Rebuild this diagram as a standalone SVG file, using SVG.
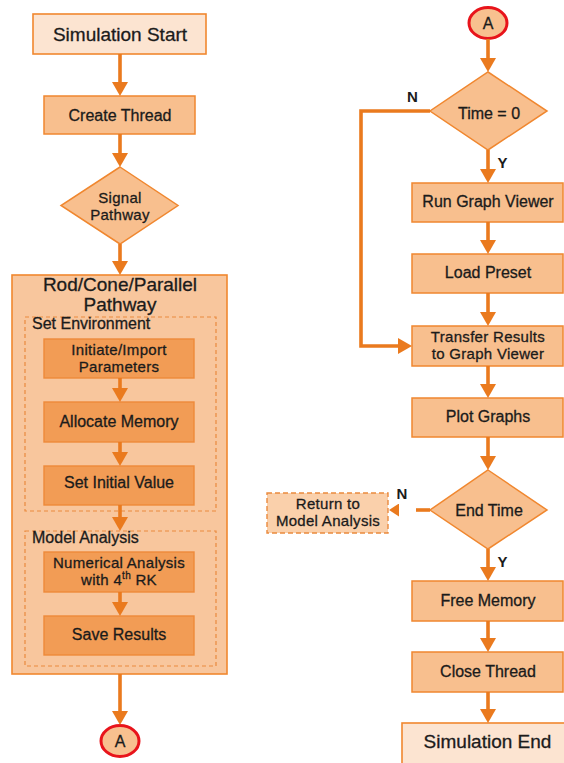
<svg xmlns="http://www.w3.org/2000/svg" width="564" height="763" viewBox="0 0 564 763">
  <style>
    text { font-family: "Liberation Sans", Arial, sans-serif; fill: #1b1b1b; stroke: #1b1b1b; stroke-width: 0.3; text-anchor: middle; }
    .t16 { font-size: 16px; }
    .t15 { font-size: 15px; letter-spacing: 0.3px; }
    .t19 { font-size: 19px; }
    .lbl { font-size: 15px; font-weight: bold; stroke: none; }
    .left { text-anchor: start; }
    .terminal { fill: #FCE4D1; stroke: #F0872F; stroke-width: 1.6; }
    .step { fill: #F8BF8E; stroke: #F0872F; stroke-width: 1.5; }
    .inner { fill: #F29C55; stroke: #EE8A3A; stroke-width: 1.4; }
    .container { fill: #F8C69D; stroke: #F0872F; stroke-width: 1.6; }
    .stage { fill: none; stroke: #EA8A3E; stroke-width: 1.2; stroke-dasharray: 4 3; }
    .ret { fill: #FAD0AB; stroke: #EA8A3E; stroke-width: 1.4; stroke-dasharray: 5 3; }
    .conn { fill: none; stroke: #EA7A1E; stroke-width: 3.6; marker-end: url(#arrow); }
    .dash { fill: none; stroke: #EA7A1E; stroke-width: 3.6; stroke-dasharray: 14 22; marker-end: url(#arrowSm); }
    .connector-A { fill: #F8C08F; stroke: #E8141B; stroke-width: 3; }
  </style>
  <defs>
    <marker id="arrow" markerUnits="userSpaceOnUse" markerWidth="14" markerHeight="16" refX="4" refY="8" orient="auto">
      <path d="M0,0 L14,8 L0,16 z" fill="#EA7A1E"/>
    </marker>
    <marker id="arrowSm" markerUnits="userSpaceOnUse" markerWidth="10" markerHeight="13" refX="3" refY="6.5" orient="auto">
      <path d="M0,0 L10,6.5 L0,13 z" fill="#EA7A1E"/>
    </marker>
  </defs>

  <rect width="564" height="763" fill="#ffffff"/>

  <!-- left column -->
  <g id="sim-start">
    <rect class="terminal" x="33" y="14" width="173" height="40"/>
    <text class="t19" x="120" y="40.5">Simulation Start</text>
  </g>
  <g id="create-thread">
    <rect class="step" x="44" y="96" width="151" height="38"/>
    <text class="t16" x="120" y="120.5">Create Thread</text>
  </g>
  <g id="signal-pathway">
    <polygon class="step" points="120,167 178,205.5 120,244 61,205.5"/>
    <text class="t15" x="120" y="202.5">Signal</text>
    <text class="t15" x="120" y="219.5">Pathway</text>
  </g>
  <g id="pathway">
    <rect class="container" x="12" y="275" width="215" height="399"/>
    <text class="t19" x="120" y="291">Rod/Cone/Parallel</text>
    <text class="t19" x="120" y="311">Pathway</text>
  </g>
  <g id="set-environment">
    <rect class="stage" x="25" y="317" width="191" height="194"/>
    <text class="t16 left" x="32" y="329">Set Environment</text>
  </g>
  <g id="init-params">
    <rect class="inner" x="44" y="339" width="150" height="39"/>
    <text class="t15" x="119" y="354.5">Initiate/Import</text>
    <text class="t15" x="119" y="371.5">Parameters</text>
  </g>
  <g id="alloc-memory">
    <rect class="inner" x="44" y="402" width="150" height="40"/>
    <text class="t16" x="119" y="427">Allocate Memory</text>
  </g>
  <g id="set-initial">
    <rect class="inner" x="44" y="466" width="150" height="39"/>
    <text class="t16" x="119" y="488">Set Initial Value</text>
  </g>
  <g id="model-analysis">
    <rect class="stage" x="25" y="531" width="191" height="135"/>
    <text class="t16 left" x="32" y="543">Model Analysis</text>
  </g>
  <g id="numerical">
    <rect class="inner" x="44" y="552" width="150" height="40"/>
    <text class="t15" x="119" y="567.5">Numerical Analysis</text>
    <text class="t15" x="119" y="584.5">with 4<tspan font-size="10" dy="-6">th</tspan><tspan dy="6"> RK</tspan></text>
  </g>
  <g id="save-results">
    <rect class="inner" x="44" y="616" width="150" height="39"/>
    <text class="t16" x="119" y="640">Save Results</text>
  </g>
  <g id="off-page-out">
    <ellipse class="connector-A" cx="120" cy="741" rx="19" ry="15.5"/>
    <text class="t16" x="120" y="746.5">A</text>
  </g>

  <!-- right column -->
  <g id="off-page-in">
    <ellipse class="connector-A" cx="488" cy="23" rx="19" ry="15.5"/>
    <text class="t16" x="488" y="28.5">A</text>
  </g>
  <g id="time-zero">
    <polygon class="step" points="488,72 547,111 488,150 430,111"/>
    <text class="t16" x="489" y="119">Time = 0</text>
  </g>
  <g id="run-viewer">
    <rect class="step" x="412" y="183" width="151" height="39"/>
    <text class="t16" x="488" y="207">Run Graph Viewer</text>
  </g>
  <g id="load-preset">
    <rect class="step" x="412" y="254" width="151" height="39"/>
    <text class="t16" x="488" y="278">Load Preset</text>
  </g>
  <g id="transfer">
    <rect class="step" x="412" y="326" width="151" height="40"/>
    <text class="t15" x="488" y="341.5">Transfer Results</text>
    <text class="t15" x="488" y="358.5">to Graph Viewer</text>
  </g>
  <g id="plot-graphs">
    <rect class="step" x="412" y="398" width="151" height="39"/>
    <text class="t16" x="488" y="422">Plot Graphs</text>
  </g>
  <g id="end-time">
    <polygon class="step" points="488,470 547,510 488,549 430,510"/>
    <text class="t16" x="489" y="516">End Time</text>
  </g>
  <g id="return-model">
    <rect class="ret" x="267" y="493" width="121" height="40"/>
    <text class="t15" x="328" y="509">Return to</text>
    <text class="t15" x="328" y="526">Model Analysis</text>
  </g>
  <g id="free-memory">
    <rect class="step" x="412" y="581" width="151" height="40"/>
    <text class="t16" x="488" y="606">Free Memory</text>
  </g>
  <g id="close-thread">
    <rect class="step" x="412" y="652" width="151" height="40"/>
    <text class="t16" x="488" y="677">Close Thread</text>
  </g>
  <g id="sim-end">
    <rect class="terminal" x="402" y="723" width="171" height="50"/>
    <text class="t19" x="487.5" y="748">Simulation End</text>
  </g>

  <!-- connectors -->
  <g id="connectors">
    <path class="conn" d="M120,54 V86"/>
    <path class="conn" d="M120,134 V157"/>
    <path class="conn" d="M120,244 V265"/>
    <path class="conn" d="M120,378 V392"/>
    <path class="conn" d="M120,442 V456"/>
    <path class="conn" d="M120,505 V521"/>
    <path class="conn" d="M120,592 V606"/>
    <path class="conn" d="M120,674 V715"/>
    <path class="conn" d="M488,39 V62"/>
    <path class="conn" d="M488,150 V173"/>
    <path class="conn" d="M488,222 V244"/>
    <path class="conn" d="M488,293 V316"/>
    <path class="conn" d="M488,366 V388"/>
    <path class="conn" d="M488,437 V460"/>
    <path class="conn" d="M488,549 V571"/>
    <path class="conn" d="M488,621 V642"/>
    <path class="conn" d="M488,692 V713"/>
    <path class="conn" d="M430,111 H361 V346 H402"/>
    <path class="dash" d="M430,510 H396"/>
    <text class="lbl" x="412.5" y="102">N</text>
    <text class="lbl" x="502.5" y="168">Y</text>
    <text class="lbl" x="402" y="499">N</text>
    <text class="lbl" x="502.5" y="567">Y</text>
  </g>
</svg>
